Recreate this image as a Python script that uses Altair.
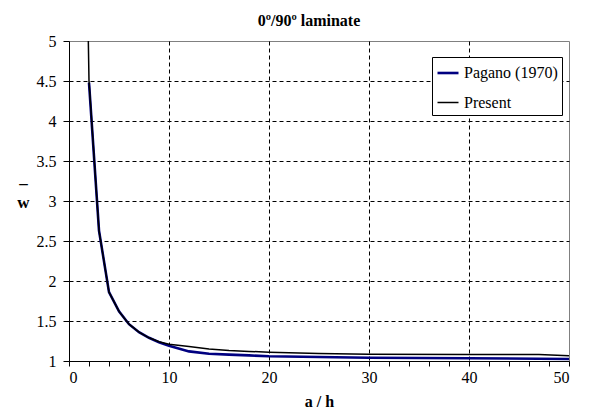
import altair as alt
import pandas as pd

# a/h values and normalised deflection w-bar
pagano_ah = [2, 3, 4, 5, 6, 7, 8, 9, 10, 12, 14, 16, 18, 20, 25, 30, 40, 50]
pagano_w = [4.48, 2.63, 1.86, 1.62, 1.46, 1.36, 1.29, 1.235, 1.19, 1.12, 1.09,
            1.08, 1.07, 1.06, 1.05, 1.04, 1.035, 1.025]

present_ah = [1.5, 2, 3, 4, 5, 6, 7, 8, 9, 10, 12, 14, 16, 18, 20, 25, 30, 40, 47, 50]
present_w = [8.2, 4.50, 2.63, 1.86, 1.62, 1.46, 1.36, 1.29, 1.24, 1.21, 1.18,
             1.15, 1.13, 1.12, 1.11, 1.095, 1.085, 1.08, 1.08, 1.065]

series_names = ["Pagano (1970)", "Present"]
series_colors = ["#000080", "#000000"]
series_widths = [2.6, 1.5]

x_ticks = list(range(0, 51, 2))
y_ticks = [1, 1.5, 2, 2.5, 3, 3.5, 4, 4.5, 5]

rows = []
for i, (a, w) in enumerate(zip(pagano_ah, pagano_w)):
    rows.append({"ah": a, "w": w, "series": series_names[0], "order": i})
for i, (a, w) in enumerate(zip(present_ah, present_w)):
    rows.append({"ah": a, "w": w, "series": series_names[1], "order": i})
df = pd.DataFrame(rows)

FONT = "Liberation Serif"

x_axis = alt.Axis(
    values=x_ticks,
    labelExpr="datum.value % 10 == 0 ? datum.label : ''",
    labelFont=FONT, labelFontSize=16, labelColor="black", labelPadding=3,
    tickSize=5, tickColor="black", domainColor="black",
    grid=True, gridColor="black", gridDash=[4, 3], gridWidth=1,
    gridOpacity={"condition": {"test": "datum.value % 10 == 0 && datum.value > 0 && datum.value < 50", "value": 1}, "value": 0},
    title="a / h", titleFont=FONT, titleFontSize=16, titleFontWeight="bold",
    titleColor="black", titleAnchor="middle", titleBaseline="alphabetic",
    titleY=45,
)

y_axis = alt.Axis(
    values=y_ticks,
    labelExpr="'' + datum.value",
    labelFont=FONT, labelFontSize=16, labelColor="black", labelPadding=7,
    tickSize=6, tickColor="black", domainColor="black",
    grid=True, gridColor="black", gridDash=[4, 3], gridWidth=1,
    gridOpacity={"condition": {"test": "datum.value > 1 && datum.value < 5", "value": 1}, "value": 0},
    title=["–", "w"], titleFont=FONT, titleFontSize=17, titleFontWeight="bold",
    titleColor="black", titleAngle=0, titleAlign="center", titleBaseline="alphabetic",
    titleX=-46, titleY=147, titleLineHeight=19,
)

legend = alt.Legend(
    orient="none", legendX=363, legendY=16, title=None,
    fillColor="white", strokeColor="black", padding=4,
    symbolType="stroke", symbolSize=441, symbolStrokeWidth=2.2,
    labelFont=FONT, labelFontSize=16, labelColor="black", labelOffset=4,
    rowPadding=10,
)

chart = alt.Chart(df).mark_line(clip=True).encode(
    x=alt.X("ah:Q", scale=alt.Scale(domain=[0, 50], nice=False, zero=False), axis=x_axis),
    y=alt.Y("w:Q", scale=alt.Scale(domain=[1, 5], nice=False, zero=False), axis=y_axis),
    color=alt.Color("series:N", scale=alt.Scale(domain=series_names, range=series_colors), legend=legend),
    strokeWidth=alt.StrokeWidth("series:N", scale=alt.Scale(domain=series_names, range=series_widths), legend=None),
    order="order:Q",
).properties(
    width=500, height=320,
    autosize=alt.AutoSizeParams(type="none"),
    padding={"left": 61, "top": 33, "right": 12, "bottom": 49},
    title=alt.TitleParams("0º/90º laminate", font=FONT, fontSize=16, fontWeight="bold",
                          color="black", anchor="middle", offset=4, dx=-10),
).configure_view(
    stroke="#808080", strokeWidth=1
)

chart.save("out.html", embed_options={"renderer": "svg", "actions": False})
